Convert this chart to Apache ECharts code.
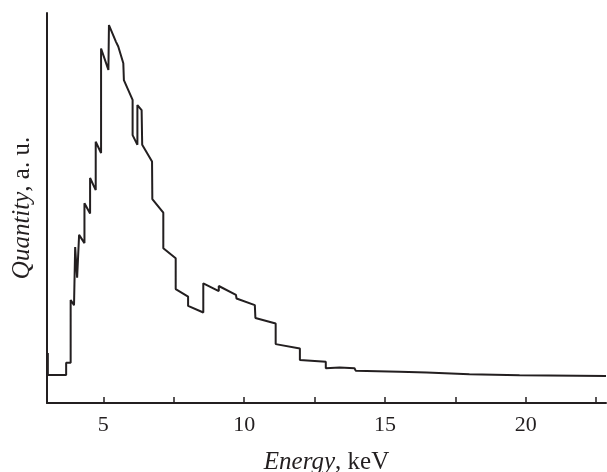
<!DOCTYPE html>
<html>
<head>
<meta charset="utf-8">
<script src="https://cdn.jsdelivr.net/npm/echarts@6/dist/echarts.min.js"></script>
<style>
  html, body { margin: 0; padding: 0; background: #fff; }
  #chart { width: 607px; height: 472px; }
</style>
</head>
<body>
<div id="chart"></div>
<script>
// Spectrum trace (energy in keV, quantity in a. u. 0..100)
const energyKeV = [
  3.03, 3.03, 3.68, 3.68, 3.84, 3.84, 3.96, 4.0, 4.07, 4.14,
  4.33, 4.33, 4.53, 4.53, 4.73, 4.73, 4.92, 4.92, 5.18, 5.2,
  5.45, 5.53, 5.71, 5.73, 6.04, 6.04, 6.21, 6.21, 6.36, 6.38,
  6.73, 6.74, 7.13, 7.13, 7.57, 7.57, 8.01, 8.01, 8.55, 8.55,
  9.1, 9.1, 9.71, 9.73, 10.38, 10.4, 11.12, 11.12, 11.98, 11.98,
  12.9, 12.9, 13.39, 13.92, 13.96, 15.52, 16.48, 16.51, 18.0, 18.06,
  19.78, 19.8, 22.85,
];
const quantity = [
  12.8, 7.2, 7.2, 10.3, 10.3, 26.4, 25.1, 40.0, 32.1, 43.1,
  41.0, 51.2, 48.6, 57.7, 54.6, 67.0, 64.1, 90.9, 85.4, 96.9,
  92.6, 91.4, 87.1, 82.8, 77.7, 68.7, 66.2, 76.4, 75.1, 66.2,
  61.9, 52.3, 48.8, 39.7, 37.1, 29.2, 27.3, 24.9, 23.2, 30.7,
  28.7, 30.0, 27.7, 26.8, 25.1, 21.8, 20.4, 15.1, 14.0, 11.0,
  10.6, 8.9, 9.1, 8.9, 8.3, 8.0, 7.8, 7.4, 7.4, 7.1,
  7.1, 6.9, 6.9,
];
const tickValues = [5, 7.5, 10, 12.5, 15, 17.5, 20, 22.5];
const labelValues = [5, 10, 15, 20];

const chart = echarts.init(document.getElementById("chart"));
const ink = "#231f20";
const serif = "'Liberation Serif', 'Times New Roman', serif";

const nameRich = {
  i: { fontFamily: serif, fontSize: 25, fontStyle: "italic", color: ink },
  n: { fontFamily: serif, fontSize: 25, color: ink },
};

chart.setOption({
  backgroundColor: "#fff",
  animation: false,
  grid: { left: 47, right: 1, top: 13, bottom: 69, outerBoundsMode: "none" },
  xAxis: {
    type: "value",
    min: 3,
    max: 22.85,
    name: "{i|Energy}{n|, keV}",
    nameLocation: "middle",
    nameGap: 47,
    nameTextStyle: { rich: nameRich },
    axisLine: { lineStyle: { color: ink, width: 2 } },
    axisTick: {
      inside: true,
      length: 6,
      customValues: tickValues,
      lineStyle: { color: ink, width: 1.5 },
    },
    axisLabel: {
      customValues: labelValues,
      color: ink,
      fontFamily: serif,
      fontSize: 22,
      margin: 11,
    },
    splitLine: { show: false },
  },
  yAxis: {
    type: "value",
    min: 0,
    max: 100,
    name: "{i|Quantity}{n|, a. u.}",
    nameLocation: "middle",
    nameGap: 12,
    nameTextStyle: { rich: nameRich },
    axisLine: { show: true, lineStyle: { color: ink, width: 2 } },
    axisTick: { show: false },
    axisLabel: { show: false },
    splitLine: { show: false },
  },
  series: [
    {
      type: "line",
      showSymbol: false,
      silent: true,
      lineStyle: { color: ink, width: 2 },
      data: energyKeV.map((e, i) => [e, quantity[i]]),
    },
  ],
});
</script>
</body>
</html>
